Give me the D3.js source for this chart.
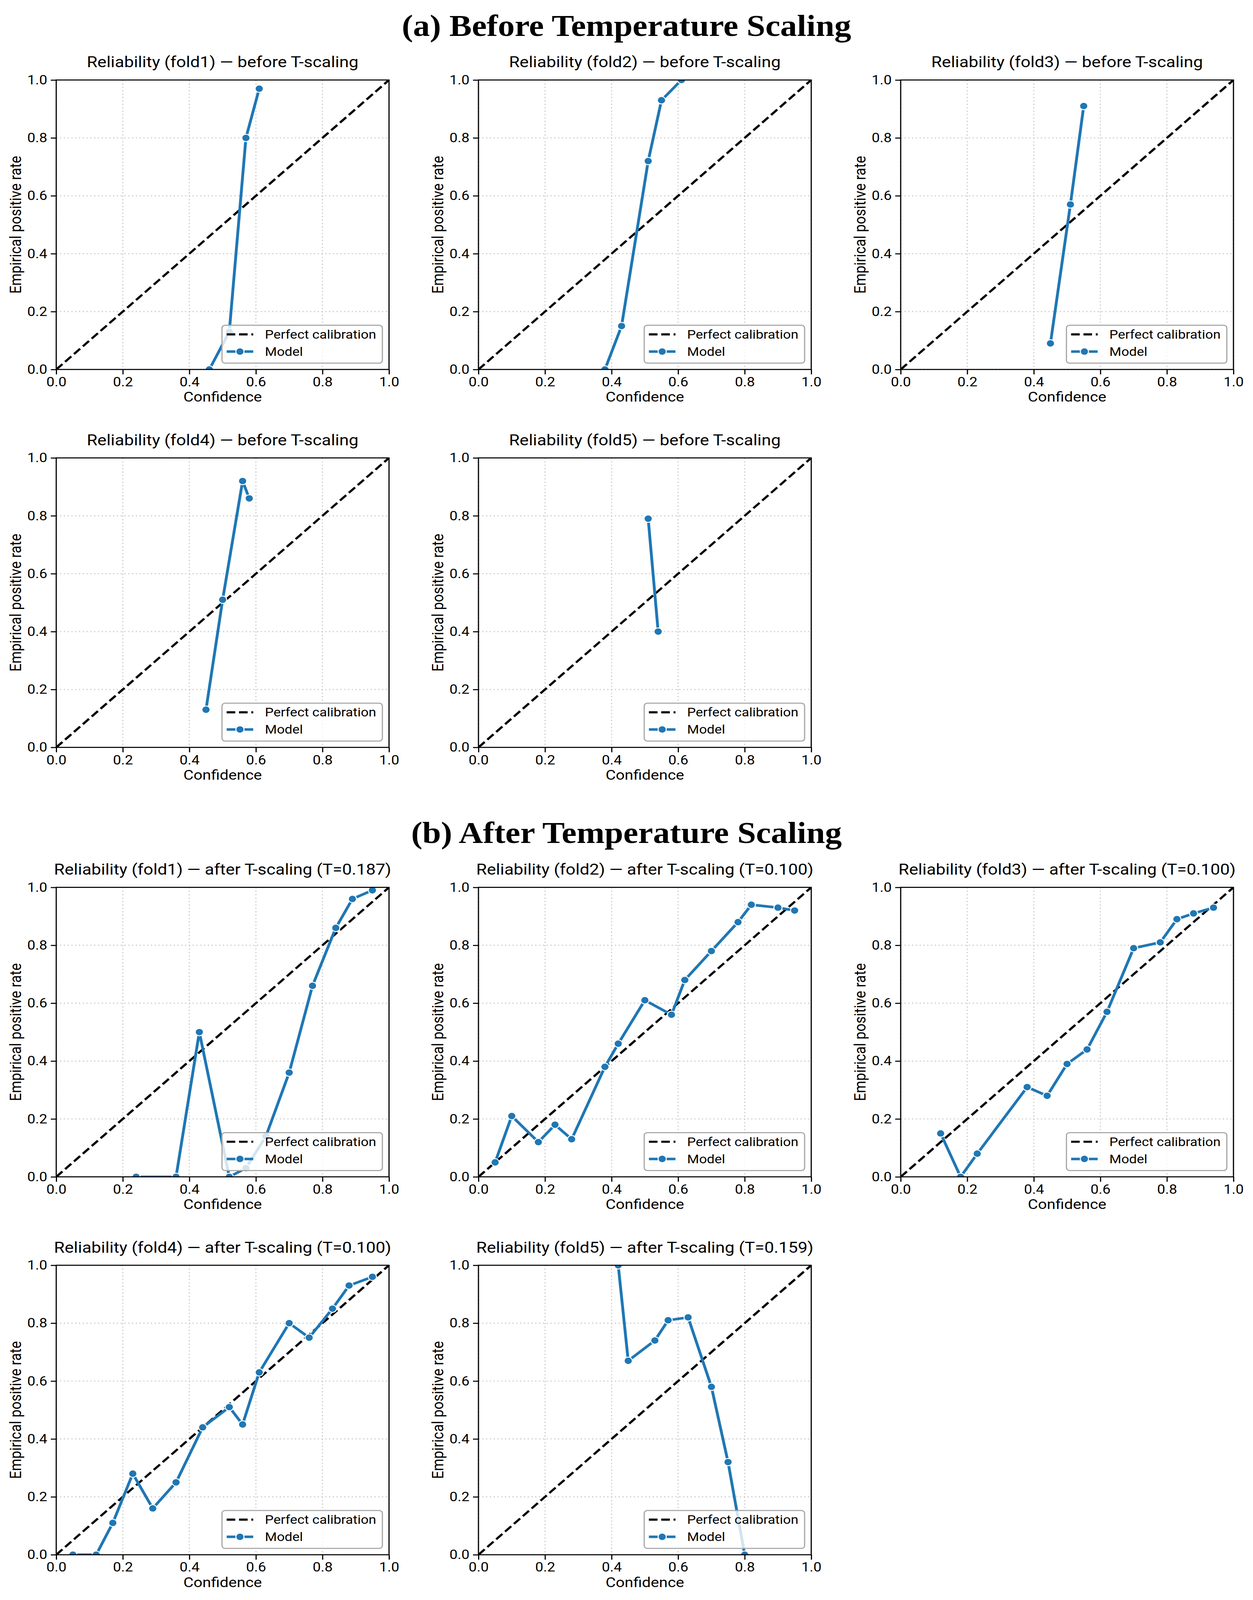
<!DOCTYPE html>
<html>
<head>
<meta charset="utf-8">
<script src="https://cdn.jsdelivr.net/npm/d3@7"></script>
<style>
  html, body { margin: 0; padding: 0; width: 100%; height: 100%; background: #fff; overflow: hidden; }
  svg { display: block; width: 100vw; height: 100vh; }
  text { font-family: Roboto, "Noto Sans", sans-serif; fill: #000; }
  .section { font-family: "Liberation Serif", "DejaVu Serif", serif; font-weight: bold; }
</style>
</head>
<body>
<!-- the figure is laid out on a 3208x4560 canvas and stretched to whatever viewport we get -->
<svg id="fig" viewBox="0 0 3208 4560" preserveAspectRatio="none"></svg>
<script>
// --- data ---
var foldNames = ['fold1', 'fold2', 'fold3', 'fold4', 'fold5'];
var temperatures = ['0.187', '0.100', '0.100', '0.100', '0.159'];
var axisTicks = [0, 0.2, 0.4, 0.6, 0.8, 1.0];
var legendLabels = ['Perfect calibration', 'Model'];

// before T-scaling: confidence / empirical positive rate per bin
var before1Conf = [0.46, 0.52, 0.57, 0.61];
var before1Rate = [0.00, 0.13, 0.80, 0.97];
var before2Conf = [0.38, 0.43, 0.51, 0.55, 0.61];
var before2Rate = [0.00, 0.15, 0.72, 0.93, 1.00];
var before3Conf = [0.45, 0.51, 0.55];
var before3Rate = [0.09, 0.57, 0.91];
var before4Conf = [0.45, 0.50, 0.56, 0.58];
var before4Rate = [0.13, 0.51, 0.92, 0.86];
var before5Conf = [0.51, 0.54];
var before5Rate = [0.79, 0.40];

// after T-scaling
var after1Conf = [0.24, 0.36, 0.43, 0.52, 0.57, 0.63, 0.70, 0.77, 0.84, 0.89, 0.95];
var after1Rate = [0.00, 0.00, 0.50, 0.00, 0.03, 0.14, 0.36, 0.66, 0.86, 0.96, 0.99];
var after2Conf = [0.05, 0.10, 0.18, 0.23, 0.28, 0.38, 0.42, 0.50, 0.58, 0.62, 0.70, 0.78, 0.82, 0.90, 0.95];
var after2Rate = [0.05, 0.21, 0.12, 0.18, 0.13, 0.38, 0.46, 0.61, 0.56, 0.68, 0.78, 0.88, 0.94, 0.93, 0.92];
var after3Conf = [0.12, 0.18, 0.23, 0.38, 0.44, 0.50, 0.56, 0.62, 0.70, 0.78, 0.83, 0.88, 0.94];
var after3Rate = [0.15, 0.00, 0.08, 0.31, 0.28, 0.39, 0.44, 0.57, 0.79, 0.81, 0.89, 0.91, 0.93];
var after4Conf = [0.05, 0.12, 0.17, 0.23, 0.29, 0.36, 0.44, 0.52, 0.56, 0.61, 0.70, 0.76, 0.83, 0.88, 0.95];
var after4Rate = [0.00, 0.00, 0.11, 0.28, 0.16, 0.25, 0.44, 0.51, 0.45, 0.63, 0.80, 0.75, 0.85, 0.93, 0.96];
var after5Conf = [0.42, 0.45, 0.53, 0.57, 0.63, 0.70, 0.75, 0.80];
var after5Rate = [1.00, 0.67, 0.74, 0.81, 0.82, 0.58, 0.32, 0.00];

var beforeSets = [[before1Conf, before1Rate], [before2Conf, before2Rate], [before3Conf, before3Rate],
                  [before4Conf, before4Rate], [before5Conf, before5Rate]];
var afterSets = [[after1Conf, after1Rate], [after2Conf, after2Rate], [after3Conf, after3Rate],
                 [after4Conf, after4Rate], [after5Conf, after5Rate]];

// --- layout ---
var colLeft = [144, 1225, 2306];
var rowTop = [228, 1305];
var sectionShift = 2301;
var plotW = 852, plotH = 825;
var blue = '#1f77b4';

var svg = d3.select('#fig');
svg.append('rect').attr('width', 3208).attr('height', 4560).attr('fill', '#fff');

svg.append('text').attr('class', 'section')
    .attr('x', 1604).attr('y', 102).attr('text-anchor', 'middle')
    .style('font-size', '86px')
    .text('(a) Before Temperature Scaling');
svg.append('text').attr('class', 'section')
    .attr('x', 1604).attr('y', 102 + sectionShift).attr('text-anchor', 'middle')
    .style('font-size', '86px')
    .text('(b) After Temperature Scaling');

var panels = [];
beforeSets.forEach(function(s, i) {
  panels.push({
    title: 'Reliability (' + foldNames[i] + ') — before T-scaling',
    conf: s[0], rate: s[1],
    left: colLeft[i % 3], top: rowTop[Math.floor(i / 3)]
  });
});
afterSets.forEach(function(s, i) {
  panels.push({
    title: 'Reliability (' + foldNames[i] + ') — after T-scaling (T=' + temperatures[i] + ')',
    conf: s[0], rate: s[1],
    left: colLeft[i % 3], top: rowTop[Math.floor(i / 3)] + sectionShift
  });
});

var x = d3.scaleLinear().domain([0, 1]).range([0, plotW]);
var y = d3.scaleLinear().domain([0, 1]).range([plotH, 0]);
var line = d3.line().x(function(d) { return x(d[0]); }).y(function(d) { return y(d[1]); });

panels.forEach(function(p, idx) {
  var g = svg.append('g').attr('transform', 'translate(' + p.left + ',' + p.top + ')');

  g.append('clipPath').attr('id', 'clip' + idx)
    .append('rect').attr('width', plotW).attr('height', plotH);

  // grid
  var grid = g.append('g');
  axisTicks.forEach(function(t) {
    grid.append('line').attr('x1', x(t)).attr('x2', x(t)).attr('y1', 0).attr('y2', plotH);
    grid.append('line').attr('x1', 0).attr('x2', plotW).attr('y1', y(t)).attr('y2', y(t));
  });
  grid.selectAll('line')
    .attr('stroke', '#c8c8c8').attr('stroke-width', 3).attr('stroke-dasharray', '3,6.7');

  var plot = g.append('g').attr('clip-path', 'url(#clip' + idx + ')');

  // perfect calibration
  plot.append('path')
    .attr('d', line([[0, 0], [1, 1]]))
    .attr('fill', 'none').attr('stroke', '#000')
    .attr('stroke-width', 6).attr('stroke-dasharray', '22,9.6');

  // model curve
  var pts = d3.zip(p.conf, p.rate);
  plot.append('path')
    .attr('d', line(pts))
    .attr('fill', 'none').attr('stroke', blue)
    .attr('stroke-width', 7.3).attr('stroke-linejoin', 'round');
  plot.selectAll('circle.pt').data(pts).enter().append('circle')
    .attr('class', 'pt')
    .attr('cx', function(d) { return x(d[0]); })
    .attr('cy', function(d) { return y(d[1]); })
    .attr('r', 10.5)
    .attr('fill', blue).attr('stroke', '#fff').attr('stroke-width', 2.5);

  // axes
  var xAxis = d3.axisBottom(x).tickValues(axisTicks).tickFormat(d3.format('.1f'))
    .tickSize(14).tickSizeOuter(0).tickPadding(8);
  var yAxis = d3.axisLeft(y).tickValues(axisTicks).tickFormat(d3.format('.1f'))
    .tickSize(14).tickSizeOuter(0).tickPadding(9);
  var gx = g.append('g').attr('transform', 'translate(0,' + plotH + ')').call(xAxis);
  var gy = g.append('g').call(yAxis);
  [gx, gy].forEach(function(a) {
    a.select('.domain').remove();
    a.selectAll('.tick line').attr('stroke', '#000').attr('stroke-width', 3);
    a.selectAll('.tick text').style('font-size', '37px').attr('fill', '#000')
      .style('font-family', 'Roboto, "Noto Sans", sans-serif');
  });

  // frame
  g.append('rect').attr('width', plotW).attr('height', plotH)
    .attr('fill', 'none').attr('stroke', '#000').attr('stroke-width', 3);

  // labels
  g.append('text').attr('x', plotW / 2).attr('y', -36).attr('text-anchor', 'middle')
    .style('font-size', '44px').text(p.title);
  g.append('text').attr('x', plotW / 2).attr('y', plotH + 92).attr('text-anchor', 'middle')
    .style('font-size', '40px').text('Confidence');
  g.append('text')
    .attr('transform', 'translate(-90,' + (plotH / 2) + ') rotate(-90)')
    .attr('text-anchor', 'middle')
    .style('font-size', '40px').text('Empirical positive rate');

  // legend
  var leg = g.append('g');
  var box = leg.append('rect');
  var t1 = leg.append('text').attr('x', 110).attr('y', 26).attr('dy', '0.35em')
    .style('font-size', '35px').text(legendLabels[0]);
  leg.append('text').attr('x', 110).attr('y', 75).attr('dy', '0.35em')
    .style('font-size', '35px').text(legendLabels[1]);
  var legW = 110 + t1.node().getComputedTextLength() + 16;
  var legH = 108;
  box.attr('width', legW).attr('height', legH).attr('rx', 8)
    .attr('fill', '#fff').attr('fill-opacity', 0.8)
    .attr('stroke', '#a6a6a6').attr('stroke-width', 3);
  leg.append('line').attr('x1', 12).attr('x2', 80).attr('y1', 26).attr('y2', 26)
    .attr('stroke', '#000').attr('stroke-width', 6).attr('stroke-dasharray', '22,9.6');
  leg.append('line').attr('x1', 12).attr('x2', 80).attr('y1', 75).attr('y2', 75)
    .attr('stroke', blue).attr('stroke-width', 7.3);
  leg.append('circle').attr('cx', 46).attr('cy', 75).attr('r', 10.5)
    .attr('fill', blue).attr('stroke', '#fff').attr('stroke-width', 2.5);
  leg.attr('transform', 'translate(' + (plotW - 17 - legW) + ',' + (plotH - 18 - legH) + ')');
});
</script>
</body>
</html>
